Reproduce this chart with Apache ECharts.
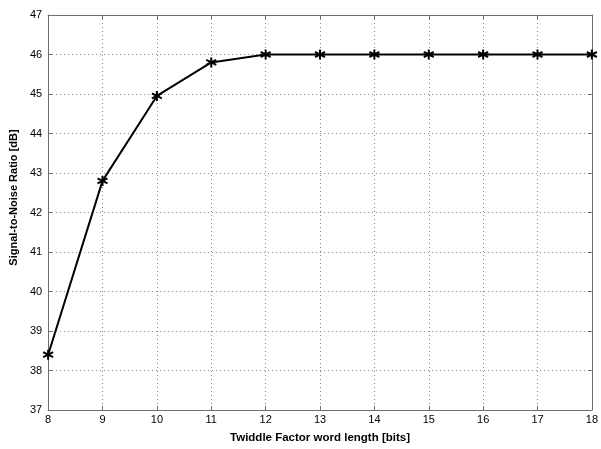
<!DOCTYPE html>
<html>
<head>
<meta charset="utf-8">
<script src="https://cdn.jsdelivr.net/npm/echarts@6/dist/echarts.min.js"></script>
<style>
  html, body { margin: 0; padding: 0; background: #fff; }
  #chart { width: 601px; height: 449px; }
</style>
</head>
<body>
<div id="chart"></div>
<script>
// word length (bits) vs SNR
const wordLength = [8, 9, 10, 11, 12, 13, 14, 15, 16, 17, 18]
const snr = [38.4, 42.8, 44.95, 45.8, 46.0, 46.0, 46.0, 46.0, 46.0, 46.0, 46.0]

const axisColor = '#6f6f6f'
const font = 'Liberation Sans, Arial, sans-serif'

let myChart = echarts.init(document.getElementById('chart'))

let boxAxis = {
  axisLine: { show: true, lineStyle: { color: axisColor, width: 1 } },
  axisTick: { show: true, inside: true, length: 4, lineStyle: { color: axisColor } },
  axisLabel: { show: false },
  splitLine: { show: false }
}

myChart.setOption({
  animation: false,
  grid: { left: 47, right: 6, top: 15, bottom: 39 },
  xAxis: [{
    type: 'value',
    min: 8,
    max: 18,
    interval: 1,
    name: 'Twiddle Factor word length [bits]',
    nameLocation: 'middle',
    nameGap: 22,
    nameTextStyle: { color: '#000', fontSize: 11.5, fontWeight: 'bold', fontFamily: font },
    axisLine: { lineStyle: { color: axisColor } },
    axisTick: { inside: true, length: 4, lineStyle: { color: axisColor } },
    axisLabel: { color: '#000', fontSize: 11, fontFamily: font, margin: 4 },
    splitLine: { show: true, lineStyle: { color: '#888', type: [1, 3], width: 1 } }
  }, Object.assign({ type: 'value', position: 'top', min: 8, max: 18, interval: 1 }, boxAxis)],
  yAxis: [{
    type: 'value',
    min: 37,
    max: 47,
    interval: 1,
    name: 'Signal-to-Noise Ratio [dB]',
    nameLocation: 'middle',
    nameGap: 28,
    // shift the title a little upward, as in the original
    nameTextStyle: { color: '#000', fontSize: 11, fontWeight: 'bold', fontFamily: font, padding: [0, 0, 0, 30] },
    axisLine: { show: true, lineStyle: { color: axisColor } },
    axisTick: { show: true, inside: true, length: 4, lineStyle: { color: axisColor } },
    axisLabel: { color: '#000', fontSize: 11, fontFamily: font, margin: 6 },
    splitLine: { show: true, lineStyle: { color: '#888', type: [1, 3], width: 1 } }
  }, Object.assign({ type: 'value', position: 'right', min: 37, max: 47, interval: 1 }, boxAxis)],
  series: [{
    type: 'line',
    data: wordLength.map((x, i) => [x, snr[i]]),
    lineStyle: { color: '#000', width: 2 },
    symbol: 'path://M0,-5L0,5M-4.33,-2.5L4.33,2.5M-4.33,2.5L4.33,-2.5',
    symbolSize: 10,
    showAllSymbol: true,
    itemStyle: { color: 'none', borderColor: '#000', borderWidth: 2 }
  }]
})
</script>
</body>
</html>
